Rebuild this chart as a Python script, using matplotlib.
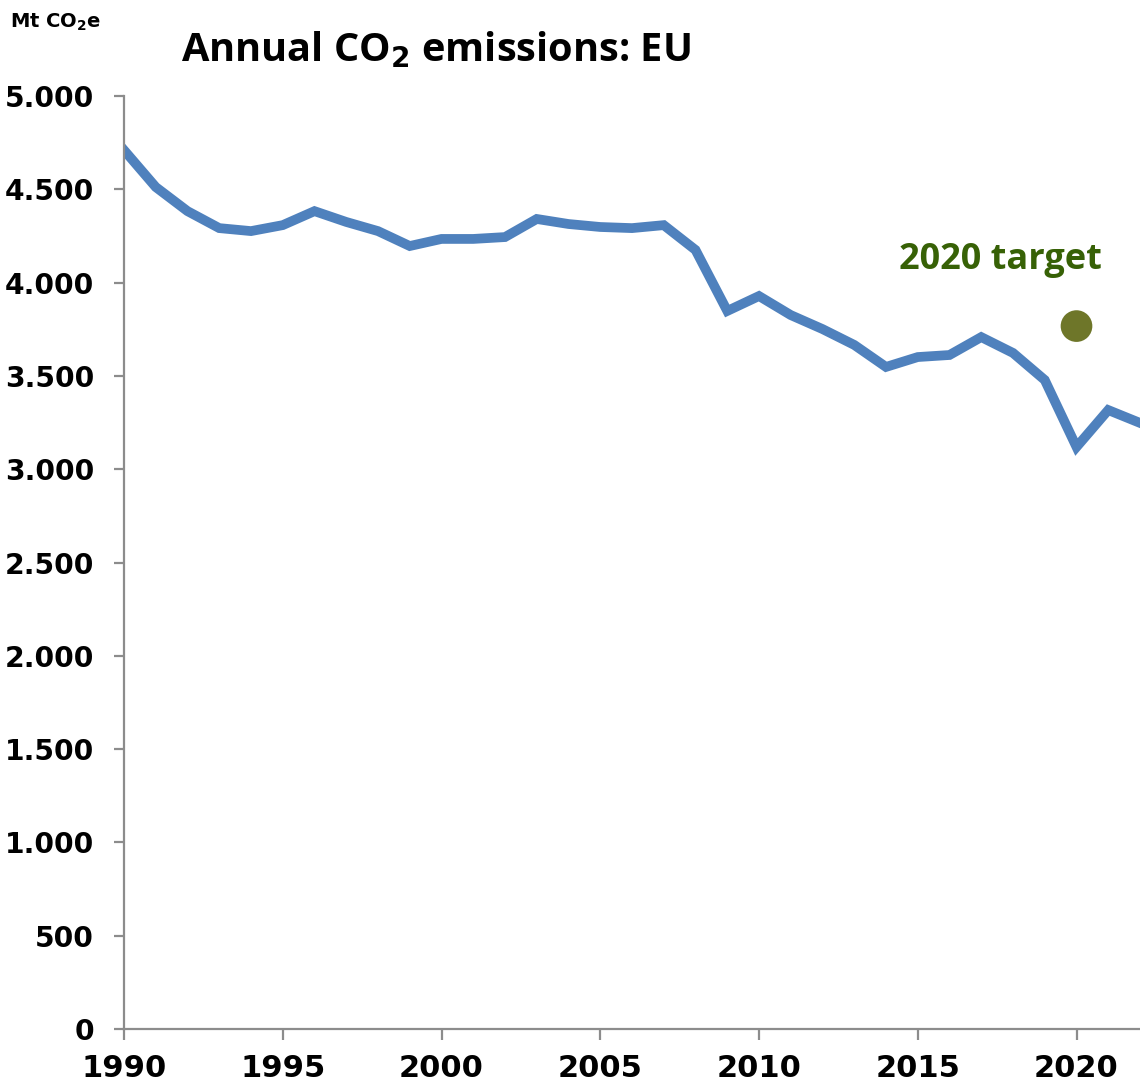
import matplotlib
matplotlib.use("Agg")
import matplotlib.pyplot as plt

years = list(range(1990, 2023))
emissions = [4710, 4512, 4383, 4292, 4276, 4308, 4383, 4325, 4276, 4196,
             4234, 4234, 4244, 4341, 4314, 4298, 4292, 4308, 4175, 3848,
             3928, 3826, 3751, 3666, 3548, 3601, 3612, 3708, 3623, 3478,
             3119, 3317, 3248]
target_year = [2020]
target_value = [3767]
x_ticks = [1990, 1995, 2000, 2005, 2010, 2015, 2020]
y_ticks = [0, 500, 1000, 1500, 2000, 2500, 3000, 3500, 4000, 4500, 5000]
y_tick_labels = ["0", "500", "1.000", "1.500", "2.000", "2.500", "3.000",
                 "3.500", "4.000", "4.500", "5.000"]

fig = plt.figure(figsize=(11.4, 10.88), dpi=100)
ax = fig.add_axes([124/1140, 1 - 1029/1088, 1 - 124/1140, (1029 - 96)/1088])

ax.plot(years, emissions, color="#4F81BD", lw=7, solid_joinstyle="miter",
        clip_on=True)
ax.scatter(target_year, target_value, s=520, color="#6E7629", zorder=3,
           edgecolors="none", clip_on=False)
ax.text(2017.6, 4120, "2020 target", color="#376106", fontsize=26,
        fontweight="bold", family="Open Sans", ha="center", va="center")

ax.set_xlim(1990, 2022)
ax.set_ylim(0, 5000)
ax.set_xticks(x_ticks)
ax.set_xticklabels([str(x) for x in x_ticks])
ax.set_yticks(y_ticks)
ax.set_yticklabels(y_tick_labels)

for s in ["top", "right"]:
    ax.spines[s].set_visible(False)
for s in ["left", "bottom"]:
    ax.spines[s].set_color("#8C8C8C")
    ax.spines[s].set_linewidth(1.6)

ax.tick_params(axis="y", direction="out", length=7.5, width=1.6,
               color="#8C8C8C", pad=14, labelsize=20.3)
ax.tick_params(axis="x", direction="out", length=8, width=1.6,
               color="#8C8C8C", pad=10, labelsize=22)
for lab in ax.get_xticklabels() + ax.get_yticklabels():
    lab.set_fontweight("bold")
    lab.set_family("DejaVu Sans")

fig.text(10/1140, 1 - 22/1088, r"Mt CO$_\mathbf{2}$e", fontsize=14,
         fontweight="bold", family="DejaVu Sans", ha="left", va="center")
fig.text(181/1140, 1 - 50/1088, r"Annual CO$_\mathbf{2}$ emissions: EU",
         fontsize=28.6, fontweight="bold", family="Open Sans", ha="left",
         va="center")

fig.savefig("out.png", dpi=100)
